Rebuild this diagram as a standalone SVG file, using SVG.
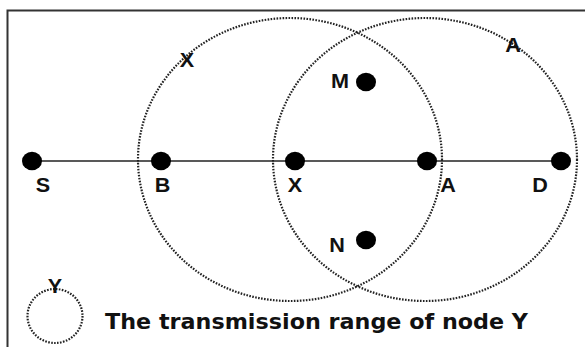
<svg xmlns="http://www.w3.org/2000/svg" width="585" height="347" viewBox="0 0 585 347">
<style>
.frame{fill:none;stroke:#333;stroke-width:2}
.range{fill:none;stroke:#222;stroke-width:2.2;stroke-dasharray:1.6 1.4}
.link{stroke:#222;stroke-width:1.5}
.dot{fill:#000}
.lbl{font-family:"Liberation Sans",Arial,sans-serif;font-weight:bold;font-size:20px;fill:#111}
.legend{font-family:"DejaVu Sans",Verdana,sans-serif;font-weight:bold;font-size:22px;fill:#111}
</style>
<rect width="585" height="347" fill="#fff"/>
<rect class="frame" x="7.5" y="10.5" width="620" height="400"/>
<g id="ranges">
<ellipse id="range-X" class="range" cx="290" cy="159.5" rx="152" ry="141.5"/>
<ellipse id="range-A" class="range" cx="425" cy="159.5" rx="152" ry="141.5"/>
<text class="lbl" x="179.8" y="67" textLength="14.4" lengthAdjust="spacingAndGlyphs">X</text>
<text class="lbl" x="505.2" y="52" textLength="15.6" lengthAdjust="spacingAndGlyphs">A</text>
</g>
<g id="connectors">
<line class="link" x1="32" y1="161" x2="561" y2="161"/>
</g>
<g id="node-S"><ellipse class="dot" cx="32" cy="161" rx="10" ry="9.3"/><text class="lbl" x="35.8" y="192" textLength="14.4" lengthAdjust="spacingAndGlyphs">S</text></g>
<g id="node-B"><ellipse class="dot" cx="161" cy="161" rx="10" ry="9.3"/><text class="lbl" x="154.7" y="192" textLength="15.6" lengthAdjust="spacingAndGlyphs">B</text></g>
<g id="node-X"><ellipse class="dot" cx="295" cy="161" rx="10" ry="9.3"/><text class="lbl" x="287.8" y="192" textLength="14.4" lengthAdjust="spacingAndGlyphs">X</text></g>
<g id="node-A"><ellipse class="dot" cx="427" cy="161" rx="10" ry="9.3"/><text class="lbl" x="440.2" y="192" textLength="15.6" lengthAdjust="spacingAndGlyphs">A</text></g>
<g id="node-D"><ellipse class="dot" cx="561" cy="161" rx="10" ry="9.3"/><text class="lbl" x="532.2" y="192" textLength="15.6" lengthAdjust="spacingAndGlyphs">D</text></g>
<g id="node-M"><ellipse class="dot" cx="366" cy="82" rx="10" ry="9.3"/><text class="lbl" x="331" y="88" textLength="18" lengthAdjust="spacingAndGlyphs">M</text></g>
<g id="node-N"><ellipse class="dot" cx="366" cy="240" rx="10" ry="9.3"/><text class="lbl" x="329.2" y="252" textLength="15.6" lengthAdjust="spacingAndGlyphs">N</text></g>
<g id="legend">
<ellipse class="range" cx="55" cy="316" rx="27.5" ry="27"/>
<text class="lbl" x="47.8" y="293" textLength="14.4" lengthAdjust="spacingAndGlyphs">Y</text>
<text class="legend" x="105" y="329" textLength="423" lengthAdjust="spacingAndGlyphs">The transmission range of node Y</text>
</g>
</svg>
